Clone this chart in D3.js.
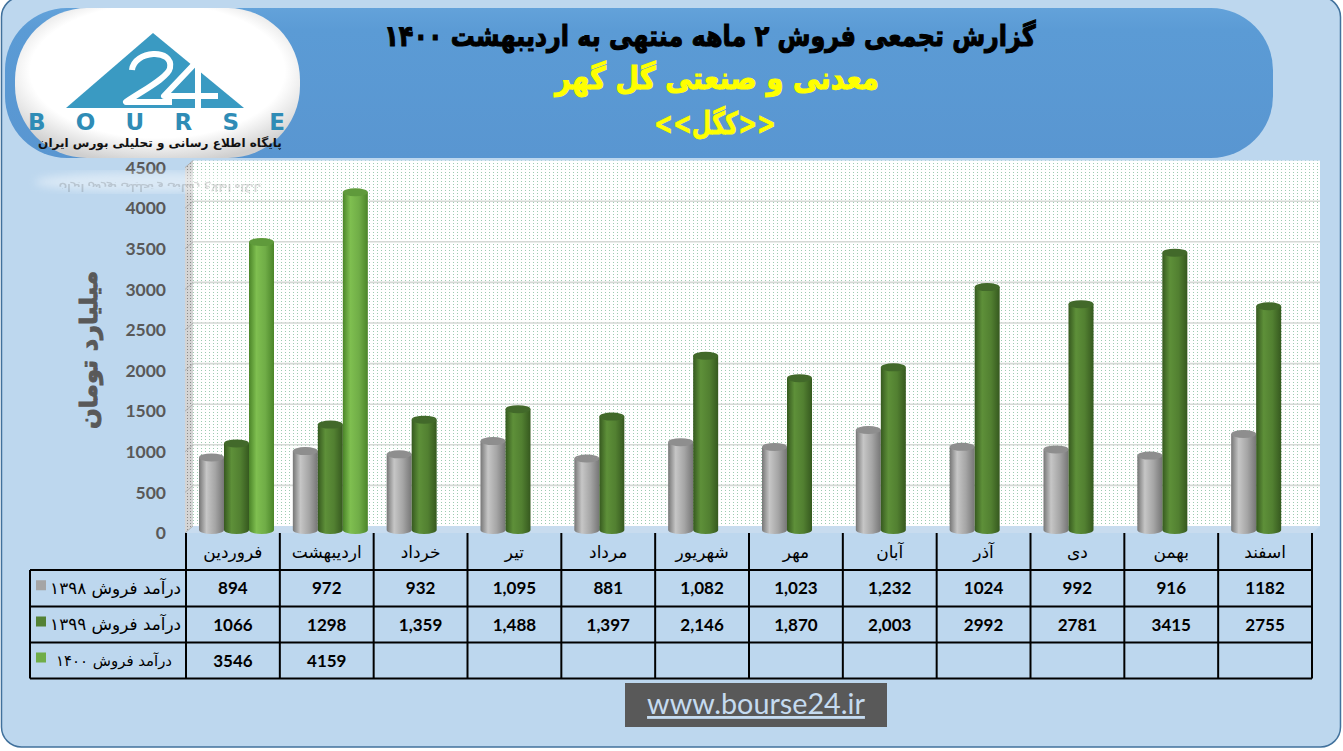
<!DOCTYPE html>
<html><head><meta charset="utf-8">
<script src="https://cdn.jsdelivr.net/npm/d3@7"></script>
<style>html,body{margin:0;padding:0;background:#fff;overflow:hidden}</style>
</head><body><svg id="c" width="1343" height="751"></svg>
<script>
// ---------- DATA ----------
const months = ["فروردین","اردیبهشت","خرداد","تیر","مرداد","شهریور","مهر","آبان","آذر","دی","بهمن","اسفند"];
const seriesNames = ["درآمد فروش ۱۳۹۸","درآمد فروش ۱۳۹۹","درآمد فروش ۱۴۰۰"];
const sales1398 = [894, 972, 932, 1095, 881, 1082, 1023, 1232, 1024, 992, 916, 1182];
const sales1399 = [1066, 1298, 1359, 1488, 1397, 2146, 1870, 2003, 2992, 2781, 3415, 2755];
const sales1400 = [3546, 4159, null, null, null, null, null, null, null, null, null, null];
const commaCols = [false, false, true, true, true, true, true, true, false, false, false, false];
const yTicks = [0, 500, 1000, 1500, 2000, 2500, 3000, 3500, 4000, 4500];
const titleLine1 = "گزارش تجمعی فروش ۲ ماهه منتهی به اردیبهشت ۱۴۰۰";
const titleLine2 = "معدنی و صنعتی گل گهر";
const titleLine3 = "<<کگل>>";
const yAxisTitle = "میلیارد تومان";
const logoWord = "BOURSE";
const logoSub = "پایگاه اطلاع رسانی و تحلیلی بورس ایران";
const footerText = "www.bourse24.ir";

const series = [sales1398, sales1399, sales1400];
const seriesColors = [
  {edge:"#767676", light:"#c6c6c6", base:"#a5a5a5", cap:"#8e8e8e", legend:"#a5a5a5"},
  {edge:"#36591f", light:"#5e9039", base:"#528031", cap:"#42692a", legend:"#548235"},
  {edge:"#4b8529", light:"#7fbf50", base:"#70ad47", cap:"#5f9a3b", legend:"#70ad47"}
];

const svg = d3.select("#c");
const defs = svg.append("defs");
const PF = "DejaVu Sans";

// patterns
const dots = defs.append("pattern").attr("id","dots").attr("patternUnits","userSpaceOnUse")
  .attr("width",4).attr("height",3);
dots.append("rect").attr("width",4).attr("height",3).attr("fill","#ffffff");
dots.append("rect").attr("x",1).attr("y",1).attr("width",1).attr("height",1).attr("fill","#9ccbb0");
const sdots = defs.append("pattern").attr("id","sdots").attr("patternUnits","userSpaceOnUse")
  .attr("width",3).attr("height",3);
sdots.append("rect").attr("width",3).attr("height",3).attr("fill","#d4d4d4");
sdots.append("rect").attr("x",1).attr("y",1).attr("width",1).attr("height",1).attr("fill","#8a8a8a");

seriesColors.forEach((c,i)=>{
  const g = defs.append("linearGradient").attr("id","bar"+i).attr("x1",0).attr("x2",1).attr("y1",0).attr("y2",0);
  [[0,c.edge],[0.3,c.light],[0.65,c.base],[1,c.edge]].forEach(s=>g.append("stop").attr("offset",s[0]).attr("stop-color",s[1]));
});
const lg = defs.append("radialGradient").attr("id","logoG").attr("cx","50%").attr("cy","42%").attr("r","62%");
lg.append("stop").attr("offset",0.72).attr("stop-color","#ffffff");
lg.append("stop").attr("offset",1).attr("stop-color","#cfcfcf");
const hg = defs.append("linearGradient").attr("id","headG").attr("x1",0).attr("x2",0).attr("y1",0).attr("y2",1);
hg.append("stop").attr("offset",0).attr("stop-color","#63a2da");
hg.append("stop").attr("offset",0.15).attr("stop-color","#5b9bd5");
hg.append("stop").attr("offset",1).attr("stop-color","#5996d1");
defs.append("filter").attr("id","blur").append("feGaussianBlur").attr("stdDeviation",4);

// frame
svg.append("rect").attr("x",1.5).attr("y",-3).attr("width",1339).attr("height",750).attr("rx",20)
  .attr("fill","#bdd7ee").attr("stroke","#41719c").attr("stroke-width",1.5);

// header panel
svg.append("rect").attr("x",5).attr("y",8).attr("width",1268).attr("height",150).attr("rx",62)
  .attr("fill","url(#headG)");

function fitText(sel, target){
  const w = sel.node().getComputedTextLength();
  const fs = parseFloat(sel.style("font-size"));
  sel.style("font-size", (fs*target/w)+"px");
  return sel;
}
function fitScale(sel, cx, cy, target){
  const w = sel.node().getComputedTextLength();
  sel.attr("x",0).attr("y",0).attr("transform",`translate(${cx},${cy}) scale(${target/w},1)`);
  return sel;
}

// titles
fitScale(svg.append("text").attr("text-anchor","middle")
  .style("font-family",PF).style("font-weight","bold").style("font-size","29px").attr("fill","#000")
  .attr("stroke","#000").attr("stroke-width",1.1)
  .text(titleLine1), 710, 46, 652);
fitScale(svg.append("text").attr("text-anchor","middle")
  .style("font-family",PF).style("font-weight","bold").style("font-size","31px").attr("fill","#ffff00")
  .attr("stroke","#ffff00").attr("stroke-width",1.2)
  .text(titleLine2), 717, 89, 324);
fitScale(svg.append("text").attr("text-anchor","middle")
  .style("font-family",PF).style("font-weight","bold").style("font-size","31px").attr("fill","#ffff00")
  .attr("stroke","#ffff00").attr("stroke-width",0.8)
  .text(titleLine3), 715, 134, 122);

// ---------- scales ----------
const x0 = d3.scaleBand().domain(months).range([186,1312]);
const x1 = d3.scaleBand().domain([0,1,2]).range([0,75]);
const y = d3.scaleLinear().domain([0,4500]).range([530,164.6]);
const yFront = d3.scaleLinear().domain([0,4500]).range([533,167.6]);
const yBack = v => y(v) - 4;
const wallL = 185, wallR = 193, wallEnd = 1320;

// side wall
svg.append("path")
  .attr("d",`M${wallL},${yFront(4500)} L${wallR},${yBack(4500)} L${wallR},${yBack(0)} L${wallL},${yFront(0)} Z`)
  .attr("fill","url(#sdots)");
// floor
svg.append("path")
  .attr("d",`M${wallL},${yFront(0)} L${wallR},${yBack(0)} L${wallEnd},${yBack(0)} L${wallEnd-8},${yFront(0)} Z`)
  .attr("fill","#c8dcef");
// back wall
svg.append("rect").attr("x",wallR).attr("y",yBack(4500)).attr("width",wallEnd-wallR)
  .attr("height",yBack(0)-yBack(4500)).attr("fill","url(#dots)");
// gridlines
svg.append("g").selectAll("line").data(yTicks.filter(v=>v>0 && v<4500)).join("line")
  .attr("x1",wallR).attr("x2",wallEnd).attr("y1",d=>yBack(d)).attr("y2",d=>yBack(d))
  .attr("stroke","#d6d9d6").attr("stroke-width",1.6);
svg.append("g").selectAll("line").data(yTicks).join("line")
  .attr("x1",wallL).attr("x2",wallR).attr("y1",d=>yFront(d)).attr("y2",d=>yBack(d))
  .attr("stroke","#b0b0b0").attr("stroke-width",1);

// y axis labels
const yAxis = svg.append("g").attr("transform","translate(166,0)")
  .call(d3.axisLeft(yFront).tickValues(yTicks).tickSize(0).tickPadding(0).tickFormat(d3.format("d")));
yAxis.select(".domain").remove();
yAxis.selectAll("text").style("font-family","Lato").style("font-weight","bold").style("font-size","17.5px").attr("fill","#595959");

// y axis title
fitText(svg.append("text").attr("transform","translate(97,350) rotate(-90)").attr("text-anchor","middle")
  .style("font-family",PF).style("font-weight","bold").style("font-size","24px").attr("fill","#595959")
  .attr("stroke","#595959").attr("stroke-width",1)
  .text(yAxisTitle), 158);

// logo reflection
svg.append("ellipse").attr("cx",155).attr("cy",182).attr("rx",120).attr("ry",10).attr("fill","#ffffff").attr("opacity",0.45).attr("filter","url(#blur)");
svg.append("g").attr("transform","translate(0,326) scale(1,-1)").attr("opacity",0.18)
  .append("text").attr("x",160).attr("y",142).attr("text-anchor","middle")
  .style("font-family",PF).style("font-weight","bold").style("font-size","10px").attr("fill","#333").text(logoSub);

// bars
const bars = svg.append("g");
const ry = 4;
months.forEach((m,mi)=>{
  series.forEach((s,si)=>{
    const v = s[mi];
    if(v==null) return;
    const bx = x0(m) + 13 + x1(si), w = x1.bandwidth();
    const top = y(v), bot = y(0);
    bars.append("path")
      .attr("d",`M${bx},${top} L${bx},${bot} A${w/2},${ry} 0 0 0 ${bx+w},${bot} L${bx+w},${top} Z`)
      .attr("fill",`url(#bar${si})`);
    bars.append("ellipse").attr("cx",bx+w/2).attr("cy",top).attr("rx",w/2).attr("ry",ry)
      .attr("fill",seriesColors[si].cap);
  });
});

// ---------- data table ----------
const tbl = svg.append("g");
const rowLines = [570, 606.5, 642.5, 678.5];
const tblLeft = 30, tblRight = 1312, tblTop = 533;
rowLines.forEach(yy=>tbl.append("line").attr("x1",tblLeft).attr("x2",tblRight).attr("y1",yy).attr("y2",yy)
  .attr("stroke","#000").attr("stroke-width",2));
tbl.append("line").attr("x1",tblLeft).attr("x2",tblLeft).attr("y1",rowLines[0]).attr("y2",rowLines[3])
  .attr("stroke","#000").attr("stroke-width",2);
months.concat([null]).forEach((m,i)=>{
  const xx = m==null ? tblRight : x0(m);
  tbl.append("line").attr("x1",xx).attr("x2",xx).attr("y1",tblTop).attr("y2",rowLines[3])
    .attr("stroke","#000").attr("stroke-width",2);
});
// month headers
tbl.selectAll("text.m").data(months).join("text").attr("class","m")
  .attr("x",d=>x0(d)+x0.bandwidth()/2).attr("y",558).attr("text-anchor","middle")
  .style("font-family",PF).style("font-size","17px").attr("fill","#000").text(d=>d);
// values
const fmtC = d3.format(","), fmtP = d3.format("d");
const labelRight = [181, 181, 172], labelWidth = [131, 131, 116];
series.forEach((s,si)=>{
  const cy = (rowLines[si]+rowLines[si+1])/2 + 6;
  tbl.append("g").selectAll("text").data(s.map((v,i)=>({v,i}))).join("text")
    .attr("x",d=>x0(months[d.i])+x0.bandwidth()/2).attr("y",cy).attr("text-anchor","middle")
    .style("font-family","Lato").style("font-weight","bold").style("font-size","17px").attr("fill","#000")
    .text(d=>d.v==null?"":(commaCols[d.i]?fmtC(d.v):fmtP(d.v)));
  // row label
  fitText(tbl.append("text").attr("x",labelRight[si]).attr("y",cy-0.5).attr("text-anchor","end")
    .style("font-family",PF).style("font-size","16px").attr("fill","#000").text(seriesNames[si]), labelWidth[si]);
  tbl.append("rect").attr("x",36).attr("y",cy-14).attr("width",10).attr("height",10)
    .attr("fill",seriesColors[si].legend);
});

// ---------- logo ----------
const logo = svg.append("g");
logo.append("rect").attr("x",15).attr("y",8).attr("width",285).attr("height",150).attr("rx",72)
  .attr("fill","url(#logoG)");
logo.append("path").attr("d","M153,33 L66,108 L244,108 Z").attr("fill","#3a9ac2");
logo.append("path").attr("d","M132,70 C134,50 174,48 170,68 C168,78 140,92 126,102 L172,102")
  .attr("fill","none").attr("stroke","#fff").attr("stroke-width",6).attr("stroke-linejoin","round");
logo.append("path").attr("d","M202,56 L164,96 L218,96 M198,62 L198,108")
  .attr("fill","none").attr("stroke","#fff").attr("stroke-width",6).attr("stroke-linejoin","round");
logo.append("text").attr("x",28).attr("y",130).attr("textLength",257).attr("lengthAdjust","spacing")
  .style("font-family","DejaVu Sans").style("font-weight","bold").style("font-size","23px").attr("fill","#2f8cb6").text(logoWord);
fitText(logo.append("text").attr("x",160).attr("y",147).attr("text-anchor","middle")
  .style("font-family",PF).style("font-weight","bold").style("font-size","10px").attr("fill","#111").text(logoSub), 244);

// ---------- footer ----------
svg.append("rect").attr("x",625).attr("y",683).attr("width",262).attr("height",44).attr("fill","#595959");
fitText(svg.append("text").attr("x",756).attr("y",714).attr("text-anchor","middle")
  .style("font-family","Lato").style("font-size","26px").style("text-decoration","underline")
  .attr("fill","#c5dbf0").text(footerText), 218);
</script></body></html>
